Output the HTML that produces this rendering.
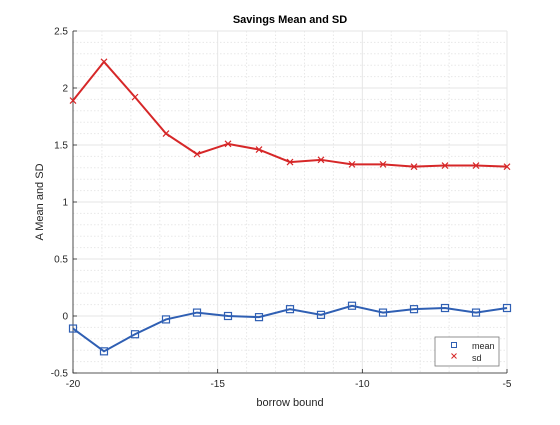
<!DOCTYPE html>
<html><head><meta charset="utf-8"><style>
body{margin:0;background:#fff;}
svg text{font-family:"Liberation Sans",sans-serif;}
</style></head><body>
<svg id="c" width="560" height="420" xmlns="http://www.w3.org/2000/svg">
<rect width="560" height="420" fill="#fff"/>
<g id="grid"></g>
<g id="axes"></g>
<g id="series"></g>
<text x="290" y="23" text-anchor="middle" font-size="11" font-weight="bold" fill="#000">Savings Mean and SD</text>
<text x="290" y="406" text-anchor="middle" font-size="11" fill="#262626">borrow bound</text>
<text transform="translate(43,202) rotate(-90)" text-anchor="middle" font-size="11" fill="#262626">A Mean and SD</text>
<g>
<rect x="435" y="337" width="64" height="29" fill="#fff" stroke="#777" stroke-width="0.8"/>
<rect x="451.5" y="342.5" width="5" height="5" fill="none" stroke="#2f5fb3" stroke-width="1"/>
<text x="472" y="349" font-size="9" fill="#262626">mean</text>
<path d="M451.5,353.5 l5,5 M456.5,353.5 l-5,5" stroke="#d62728" stroke-width="1"/>
<text x="472" y="361" font-size="9" fill="#262626">sd</text>
</g>
</svg>
<script>
const xTicks=[-20,-15,-10,-5];
const yTicks=[-0.5,0,0.5,1,1.5,2,2.5];
const xData=[-20,-18.929,-17.857,-16.786,-15.714,-14.643,-13.571,-12.5,-11.429,-10.357,-9.286,-8.214,-7.143,-6.071,-5];
const meanVals=[-0.11,-0.31,-0.16,-0.03,0.03,0.00,-0.01,0.06,0.01,0.09,0.03,0.06,0.07,0.03,0.07];
const sdVals=[1.89,2.23,1.92,1.60,1.42,1.51,1.46,1.35,1.37,1.33,1.33,1.31,1.32,1.32,1.31];
const X0=73,X1=507,Y0=373,Y1=31;
const xs=v=>X0+(v+20)/15*(X1-X0);
const ys=v=>Y0-(v+0.5)/3*(Y0-Y1);
const NS="http://www.w3.org/2000/svg";
function mk(tag,attrs,parent){const e=document.createElementNS(NS,tag);for(const k in attrs)e.setAttribute(k,attrs[k]);parent.appendChild(e);return e;}
const grid=document.getElementById('grid'),axes=document.getElementById('axes'),ser=document.getElementById('series');
for(let v=-19;v<-5;v++){if(v%5===0)continue;const l=mk('line',{x1:xs(v),x2:xs(v),y1:Y1,y2:Y0,stroke:'#e8e8e8','stroke-dasharray':'1.5,2'},grid);

}
for(let i=-5;i<25;i++){if(i%5===0)continue;const v=i/10;const l=mk('line',{x1:X0,x2:X1,y1:ys(v),y2:ys(v),stroke:'#e8e8e8','stroke-dasharray':'1.5,2'},grid);

}
xTicks.forEach(v=>{const l=mk('line',{x1:xs(v),x2:xs(v),y1:Y1,y2:Y0,stroke:'#e6e6e6'},grid);


const tk=mk('line',{x1:xs(v),x2:xs(v),y1:Y0,y2:Y0-4,stroke:'#262626','stroke-width':'0.8'},axes);


const t=mk('text',{x:xs(v),y:Y0+14,'text-anchor':'middle','font-size':'10',fill:'#262626'},axes);t.textContent=v;

});
yTicks.forEach(v=>{const l=mk('line',{x1:X0,x2:X1,y1:ys(v),y2:ys(v),stroke:'#e6e6e6'},grid);


const tk=mk('line',{x1:X0,x2:X0+4,y1:ys(v),y2:ys(v),stroke:'#262626','stroke-width':'0.8'},axes);


const t=mk('text',{x:X0-5,y:ys(v)+3.5,'text-anchor':'end','font-size':'10',fill:'#262626'},axes);t.textContent=v;

});
const ax=mk('path',{d:`M${X0},${Y1}V${Y0}H${X1}`,fill:'none',stroke:'#262626','stroke-width':'0.8'},axes);


const pm=mk('polyline',{points:xData.map((x,i)=>xs(x)+','+ys(meanVals[i])).join(' '),fill:'none',stroke:'#2f5fb3','stroke-width':'2'},ser);


const ps=mk('polyline',{points:xData.map((x,i)=>xs(x)+','+ys(sdVals[i])).join(' '),fill:'none',stroke:'#d62728','stroke-width':'2'},ser);


xData.forEach((x,i)=>{const r=mk('rect',{x:xs(x)-3.5,y:ys(meanVals[i])-3.5,width:7,height:7,fill:'none',stroke:'#2f5fb3','stroke-width':'1.2'},ser);


const cx=xs(x),cy=ys(sdVals[i]);
const p=mk('path',{d:`M${cx-3},${cy-3}L${cx+3},${cy+3}M${cx+3},${cy-3}L${cx-3},${cy+3}`,stroke:'#d62728','stroke-width':'1.2'},ser);

});
</script>
</body></html>
